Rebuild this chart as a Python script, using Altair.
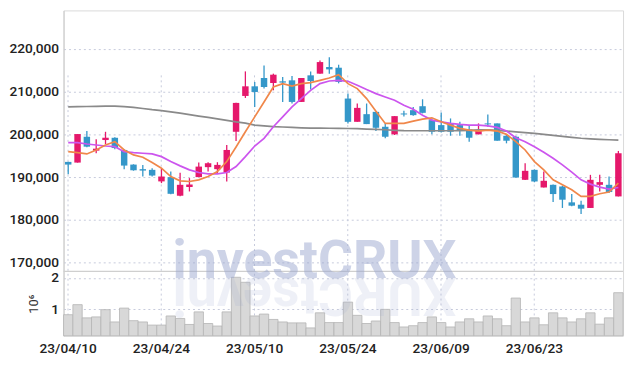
import altair as alt
import pandas as pd

dates = [
    "23/04/10", "23/04/11", "23/04/12", "23/04/13", "23/04/14",
    "23/04/17", "23/04/18", "23/04/19", "23/04/20", "23/04/21",
    "23/04/24", "23/04/25", "23/04/26", "23/04/27", "23/04/28",
    "23/05/02", "23/05/03", "23/05/04", "23/05/08", "23/05/09",
    "23/05/10", "23/05/11", "23/05/12", "23/05/15", "23/05/16",
    "23/05/17", "23/05/18", "23/05/19", "23/05/22", "23/05/23",
    "23/05/24", "23/05/25", "23/05/26", "23/05/30", "23/05/31",
    "23/06/01", "23/06/02", "23/06/05", "23/06/07", "23/06/08",
    "23/06/09", "23/06/12", "23/06/13", "23/06/14", "23/06/15",
    "23/06/16", "23/06/19", "23/06/20", "23/06/21", "23/06/22",
    "23/06/23", "23/06/26", "23/06/27", "23/06/28", "23/06/29",
    "23/06/30", "23/07/03", "23/07/04", "23/07/05", "23/07/06",
]
opens = [
    193560, 193400, 199440, 196190, 198670, 199200, 196350, 192930, 191860, 191700,
    189000, 190000, 185650, 187700, 190000, 192330, 191860, 191070, 200600, 208980,
    211230, 213170, 212000, 212400, 212630, 207580, 213800, 214190, 215740, 215580,
    208370, 202930, 204720, 205260, 201770, 200000, 204880, 205650, 206580, 203330,
    202160, 202560, 202160, 201160, 200000, 202560, 202560, 199670, 199440, 189370,
    191700, 187580, 188200, 187810, 184100, 183550, 182790, 188200, 188200, 185490,
]
highs = [
    193600, 200070, 200770, 198840, 200600, 199300, 196500, 193000, 192860, 192090,
    191930, 191300, 191000, 189770, 193400, 193490, 193490, 197500, 207400, 214720,
    212240, 216120, 214190, 213400, 213630, 213170, 214720, 217280, 218050, 216280,
    209540, 207210, 207210, 205260, 202560, 204260, 205500, 206420, 208200, 203720,
    205120, 203720, 202930, 202160, 202560, 204650, 202560, 199900, 199700, 193250,
    191800, 191330, 188300, 188000, 186040, 184490, 190530, 190530, 190140, 196120,
]
lows = [
    190700, 193400, 197000, 195580, 197740, 196500, 191850, 191500, 190140, 190140,
    188600, 186000, 185500, 186650, 190000, 191300, 190930, 188980, 198440, 208510,
    206420, 210700, 210300, 207580, 207200, 207580, 210500, 214190, 214190, 211930,
    202560, 202930, 202400, 200770, 199070, 199850, 204180, 204330, 204900, 200000,
    200460, 199670, 199670, 198280, 200000, 201770, 198510, 197900, 189900, 189300,
    188800, 187580, 184180, 182790, 183200, 181390, 182790, 186650, 186300, 185490,
]
closes = [
    192930, 200070, 197120, 196650, 199210, 196800, 192700, 191600, 191530, 190370,
    190140, 186100, 188200, 188300, 192460, 193250, 192860, 196350, 207350, 211230,
    209910, 211070, 213950, 212100, 207580, 213170, 212470, 216900, 215190, 212240,
    202930, 206190, 202400, 201540, 199440, 204260, 204650, 204490, 205030, 200600,
    200600, 200600, 201000, 199210, 200770, 202330, 198510, 198510, 189900, 191470,
    188980, 189140, 186040, 184720, 183320, 182620, 189370, 188830, 186510, 195580,
]
ma_short = [
    195950, 195720, 195420, 196350, 197510, 198280, 196350, 195190, 194650, 193400,
    192090, 190140, 189140, 188980, 189370, 190140, 191300, 193630, 197050, 200600,
    204090, 207580, 211070, 211860, 211300, 211860, 212090, 212630, 213160, 213950,
    211860, 210700, 208370, 205420, 202560, 202560, 202560, 203090, 203560, 203860,
    202930, 202160, 201400, 201000, 200770, 201000, 200770, 200000, 198280, 196350,
    193630, 191700, 189370, 188210, 187050, 185490, 185490, 186120, 186510, 188600,
]
ma_mid = [
    198050, 198050, 197740, 197510, 197280, 197120, 195950, 195720, 195580, 195420,
    194790, 193630, 192630, 191700, 191070, 190770, 190770, 191070, 192470, 194790,
    197280, 199070, 201770, 204090, 206420, 208370, 210300, 211860, 212470, 212630,
    212400, 211470, 210470, 209530, 208740, 207980, 206810, 205880, 204490, 203330,
    202930, 202560, 202330, 202160, 202160, 202000, 201630, 200770, 199210, 198280,
    197120, 195810, 194420, 192860, 191160, 189370, 188370, 187670, 187210, 187580,
]
ma_long = [
    206420, 206470, 206510, 206540, 206580, 206580, 206470, 206300, 206050, 205770,
    205540, 205260, 204950, 204600, 204260, 203950, 203600, 203280, 202930, 202630,
    202160, 201980, 201810, 201720, 201630, 201530, 201470, 201470, 201420, 201400,
    201370, 201330, 201230, 201160, 201070, 200950, 200860, 200840, 200840, 200840,
    200840, 200840, 200880, 200950, 201050, 201070, 200950, 200770, 200580, 200400,
    200210, 200000, 199770, 199530, 199300, 199090, 198950, 198840, 198740, 198670,
]
volume_millions = [
    0.83, 1.15, 0.73, 0.76, 0.99, 0.60, 1.04, 0.64, 0.60, 0.50,
    0.50, 0.79, 0.71, 0.52, 0.92, 0.55, 0.47, 0.92, 2.02, 1.86,
    0.79, 0.85, 0.68, 0.60, 0.57, 0.57, 0.41, 0.89, 0.58, 0.58,
    1.23, 0.81, 0.55, 0.63, 1.00, 0.58, 0.44, 0.48, 0.58, 0.76,
    0.58, 0.44, 0.60, 0.70, 0.60, 0.79, 0.70, 0.48, 1.36, 0.60,
    0.73, 0.51, 0.89, 0.73, 0.60, 0.70, 0.89, 0.53, 0.73, 1.53,
]
tick_dates = ["23/04/10", "23/04/24", "23/05/10", "23/05/24", "23/06/09", "23/06/23"]
price_ticks = [170000, 180000, 190000, 200000, 210000, 220000]
volume_ticks = [1, 2]
watermark = "investCRUX"

df = pd.DataFrame({
    "date": dates, "open": opens, "high": highs, "low": lows, "close": closes,
    "ma_short": ma_short, "ma_mid": ma_mid, "ma_long": ma_long, "vol": volume_millions,
})
df["dir"] = ["up" if c >= o else "down" for o, c in zip(opens, closes)]

UP, DOWN = "#e5186b", "#3497c9"
FONT = "Roboto"
FS = 13.8
GRID = "#c6cadc"
W, H = 564, 328
PRICE_DOMAIN = [167980, 228980]
VOL_DOMAIN = [0.16, 2.21]
SPLIT = 263

xenc = alt.X(
    "date:O", sort=None,
    scale=alt.Scale(type="band", paddingInner=0, paddingOuter=0),
    axis=alt.Axis(values=tick_dates, labelAngle=0, ticks=False, domain=False,
                  grid=True, gridDash=[2, 3], gridColor=GRID, title=None,
                  labelPadding=6, labelFont=FONT, labelFontSize=FS,
                  labelFontWeight=500, labelColor="#222"),
)

pscale = alt.Scale(domain=PRICE_DOMAIN, range=[SPLIT, 0], nice=False, zero=False)
paxis = alt.Axis(values=price_ticks, labelExpr="format(datum.value, ',')", title=None,
                 ticks=False, labelPadding=5, grid=True, gridDash=[2, 3], gridColor=GRID,
                 domain=True, domainColor="#c8c8c8", orient="left",
                 labelFont=FONT, labelFontSize=FS, labelFontWeight=500,
                 labelColor="#222", labelOverlap=False, labelFlush=False)

def py(field):
    return alt.Y(field, type="quantitative", scale=pscale, axis=paxis, title=None)

color = alt.Color("dir:N", scale=alt.Scale(domain=["up", "down"], range=[UP, DOWN]), legend=None)

base = alt.Chart(df)
wicks = base.mark_rule(strokeWidth=1.3).encode(x=xenc, y=py("low"), y2="high:Q", color=color)
bodies = base.mark_bar(size=6.5).encode(x=xenc, y=py("open"), y2="close:Q", color=color)
line_long = base.mark_line(color="#8a8a8a", strokeWidth=1.7).encode(x=xenc, y=py("ma_long"))
line_mid = base.mark_line(color="#cc55ee", strokeWidth=1.7).encode(x=xenc, y=py("ma_mid"))
line_short = base.mark_line(color="#f0874a", strokeWidth=1.7).encode(x=xenc, y=py("ma_short"))
sep = alt.Chart(pd.DataFrame({"v": [PRICE_DOMAIN[0]]})).mark_rule(color="#cfcfcf", strokeWidth=1.2).encode(y=py("v"))

price = alt.layer(wicks, bodies, line_long, line_mid, line_short, sep)

vscale = alt.Scale(domain=VOL_DOMAIN, range=[H, SPLIT], nice=False, zero=False)
vaxis = alt.Axis(values=volume_ticks, labelExpr="format(datum.value, 'd')", title="10⁶",
                 titleFont=FONT, titleFontSize=13, titleFontWeight="normal",
                 titleColor="#333", titlePadding=10, ticks=False, labelPadding=5,
                 grid=True, gridDash=[2, 3], gridColor=GRID, domain=True,
                 domainColor="#c8c8c8", orient="left", labelFont=FONT,
                 labelFontSize=FS, labelFontWeight=500, labelColor="#222",
                 labelOverlap=False, labelFlush=False, labelBound=False)
vol = base.mark_bar(fill="#d8d8d8", stroke="#b4b4b4", strokeWidth=0.8).encode(
    x=xenc, y=alt.Y("vol:Q", scale=vscale, axis=vaxis), y2=alt.datum(VOL_DOMAIN[0])
)

wm_df = pd.DataFrame({"t": [watermark], "r": [watermark[::-1]]})
wm = alt.Chart(wm_df).mark_text(font=FONT, fontSize=54, fontWeight="bold",
                                color="#9ca8d0", opacity=0.5, align="center",
                                baseline="alphabetic").encode(
    text="t:N", x=alt.value(253), y=alt.value(270))
wm_ref = alt.Chart(wm_df).mark_text(font=FONT, fontSize=54, fontWeight="bold",
                                    color="#9ca8d0", opacity=0.16, align="center",
                                    baseline="alphabetic", angle=180).encode(
    text="r:N", x=alt.value(253), y=alt.value(270))

volume = alt.layer(vol, wm, wm_ref)

chart = alt.layer(price, volume).resolve_scale(y="independent").properties(
    width=W, height=H,
    padding={"left": 0, "top": 1, "right": 4, "bottom": 4},
).configure_view(stroke="#dadada", strokeWidth=1)

chart.save("out.html", embed_options={"renderer": "svg", "actions": False})
